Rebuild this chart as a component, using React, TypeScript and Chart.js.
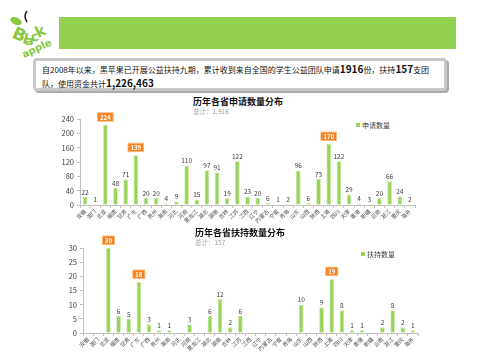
import React, { useEffect, useRef } from "react";
import { Chart, registerables } from "chart.js";
Chart.register(...registerables);

const FONT = '"Noto Sans CJK SC", "Noto Sans", sans-serif';

const provinces = ["安徽", "澳门", "北京", "福建", "甘肃", "广东", "广西", "贵州", "海南", "河北", "河南", "黑龙江", "湖北", "湖南", "吉林", "江苏", "江西", "辽宁", "内蒙古", "宁夏", "青海", "山东", "山西", "陕西", "上海", "四川", "天津", "香港", "新疆", "云南", "浙江", "重庆", "海外"];
const applications = [22, 1, 224, 48, 71, 139, 20, 20, 4, 9, 110, 15, 97, 91, 19, 122, 23, 20, 6, 1, 2, 96, 6, 73, 170, 122, 29, 4, 3, 20, 66, 24, 2];
const supported = [0, 0, 30, 6, 5, 18, 3, 1, 1, 0, 3, 0, 6, 12, 2, 6, 0, 0, 0, 0, 0, 10, 0, 9, 19, 8, 1, 1, 0, 2, 8, 2, 1];
const appAxis = { max: 240, step: 40 };
const supAxis = { max: 30, step: 5 };
const appTitle = "历年各省申请数量分布";
const appTotal = "总计：1,916";
const supTitle = "历年各省扶持数量分布";
const supTotal = "总计：157";
const appSeries = "申请数量";
const supSeries = "扶持数量";

const valueLabels = {
  id: "valueLabels",
  afterDatasetsDraw(chart: any) {
    const ctx = chart.ctx;
    const vals = chart.data.datasets[0].data as number[];
    const threshold = [...vals].sort((a, b) => b - a)[2];
    const meta = chart.getDatasetMeta(0);
    meta.data.forEach((bar: any, i: number) => {
      const v = vals[i];
      if (!v) return;
      const x = bar.x;
      const y = bar.y;
      ctx.save();
      ctx.textAlign = "center";
      if (v >= threshold) {
        ctx.font = `bold 6px ${FONT}`;
        const w = ctx.measureText(String(v)).width + 5;
        const h = 8.5;
        const by = y - 3.5 - h;
        ctx.fillStyle = "#f58220";
        ctx.fillRect(x - w / 2, by, w, h);
        ctx.strokeStyle = "#fcb97a";
        ctx.lineWidth = 0.8;
        ctx.strokeRect(x - w / 2, by, w, h);
        ctx.fillStyle = "#ffffff";
        ctx.textBaseline = "middle";
        ctx.fillText(String(v), x, by + h / 2 + 0.5);
      } else {
        ctx.font = `6.5px ${FONT}`;
        ctx.fillStyle = "#404040";
        ctx.textBaseline = "bottom";
        ctx.fillText(String(v), x, y - 1.5);
      }
      ctx.restore();
    });
  },
};

type BarProps = {
  left: number; top: number; width: number; height: number;
  values: number[]; series: string; max: number; step: number;
  yWidth: number; padTop: number; padRight: number;
};

function BarChart(p: BarProps) {
  const ref = useRef<HTMLCanvasElement>(null);
  useEffect(() => {
    if (!ref.current) return;
    const chart = new Chart(ref.current, {
      type: "bar",
      data: {
        labels: provinces,
        datasets: [{
          label: p.series,
          data: p.values,
          backgroundColor: "#98d35a",
          borderColor: "#c4e6a0",
          borderWidth: 0.8,
          barPercentage: 0.45,
          categoryPercentage: 1,
        }],
      },
      options: {
        responsive: false,
        animation: false,
        layout: { padding: { top: p.padTop, right: p.padRight, left: 0, bottom: 0 } },
        plugins: { legend: { display: false }, tooltip: { enabled: false } },
        scales: {
          x: {
            grid: { display: true, drawOnChartArea: false, drawTicks: true, tickLength: 3, color: "#bfbfbf", offset: true },
            border: { color: "#bfbfbf" },
            ticks: { autoSkip: false, minRotation: 45, maxRotation: 45, padding: 0, color: "#505050", font: { size: 5.5, family: FONT } },
            afterFit: (s: any) => { s.height = 25; },
          },
          y: {
            min: 0, max: p.max,
            grid: { display: true, drawOnChartArea: false, tickLength: 3, color: "#bfbfbf" },
            border: { color: "#bfbfbf" },
            ticks: { stepSize: p.step, padding: 3, color: "#404040", font: { size: 7.5, family: FONT } },
            afterFit: (s: any) => { s.width = p.yWidth; },
          },
        },
      },
      plugins: [valueLabels],
    } as any);
    return () => chart.destroy();
  }, []);
  return (
    <canvas ref={ref} width={p.width} height={p.height}
      style={{ position: "absolute", left: p.left, top: p.top, width: p.width, height: p.height }} />
  );
}

function Letter({ x, y, r, s, c }: { x: number; y: number; r: number; s: number; c: string }) {
  return (
    <text x={x} y={y} fill="#86c83f" fontFamily="DejaVu Sans, sans-serif" fontWeight="bold" fontSize={s}
      transform={`rotate(${r} ${x} ${y})`}>{c}</text>
  );
}

function Logo() {
  return (
    <svg width={60} height={62} style={{ position: "absolute", left: 0, top: 0 }}>
      <path d="M27 22 Q23 16 27 11" stroke="#222" strokeWidth={1.6} fill="none" />
      <ellipse cx={16} cy={21} rx={6} ry={3.5} fill="#86c83f" transform="rotate(25 16 21)" />
      <Letter x={11} y={37} r={25} s={17} c="B" />
      <Letter x={22} y={43} r={15} s={14} c="l" />
      <Letter x={25} y={45} r={0} s={13} c="a" />
      <Letter x={32} y={42} r={-15} s={13} c="c" />
      <Letter x={38} y={38} r={-25} s={15} c="k" />
      <Letter x={24} y={58} r={-25} s={10} c="apple" />
    </svg>
  );
}

function Legend({ left, top, text }: { left: number; top: number; text: string }) {
  return (
    <div style={{ position: "absolute", left, top, display: "flex", alignItems: "center", fontSize: 7, color: "#404040", whiteSpace: "nowrap" }}>
      <span style={{ display: "inline-block", width: 4, height: 4, background: "#98d35a", marginRight: 2 }} />
      {text}
    </div>
  );
}

function Title({ left, top, title, total }: { left: number; top: number; title: string; total: string }) {
  return (
    <div style={{ position: "absolute", left, top, whiteSpace: "nowrap" }}>
      <div style={{ fontSize: 9, fontWeight: "bold", color: "#111", lineHeight: "10px" }}>{title}</div>
      <div style={{ fontSize: 6.5, color: "#a0a0a0", lineHeight: "8px" }}>{total}</div>
    </div>
  );
}

export default function App() {
  useEffect(() => {
    document.body.style.margin = "0";
  }, []);
  const big = { fontWeight: "bold" as const, fontSize: 10 };
  return (
    <div style={{ position: "absolute", left: 0, top: 0, width: 480, height: 360, background: "#fff", overflow: "hidden", fontFamily: FONT }}>
      <Logo />
      <div style={{ position: "absolute", left: 59, top: 17, width: 397, height: 32, background: "#92d050" }} />
      <div style={{
        position: "absolute", left: 33, top: 58, width: 408, height: 27, background: "#fff",
        border: "3px solid #c8c8c8", borderRadius: 4, boxShadow: "2px 2px 0 #a8a8a8",
      }}>
        <div style={{ position: "absolute", left: 6, top: 1, fontSize: 8, lineHeight: "13px", color: "#111", whiteSpace: "nowrap" }}>
          自2008年以来，黑苹果已开展公益扶持九期，累计收到来自全国的学生公益团队申请<span style={big}>1916</span>份，扶持<span style={big}>157</span>支团<br />
          队，使用资金共计<span style={big}>1,226,463</span>
        </div>
      </div>

      <Title left={193} top={97} title={appTitle} total={appTotal} />
      <Legend left={356} top={120} text={appSeries} />
      <BarChart left={30} top={96} width={440} height={134} values={applications} series={appSeries}
        max={appAxis.max} step={appAxis.step} yWidth={50} padTop={23} padRight={55} />

      <Title left={195} top={228} title={supTitle} total={supTotal} />
      <Legend left={361} top={249} text={supSeries} />
      <BarChart left={30} top={232} width={440} height={126} values={supported} series={supSeries}
        max={supAxis.max} step={supAxis.step} yWidth={53} padTop={16} padRight={52} />
    </div>
  );
}
